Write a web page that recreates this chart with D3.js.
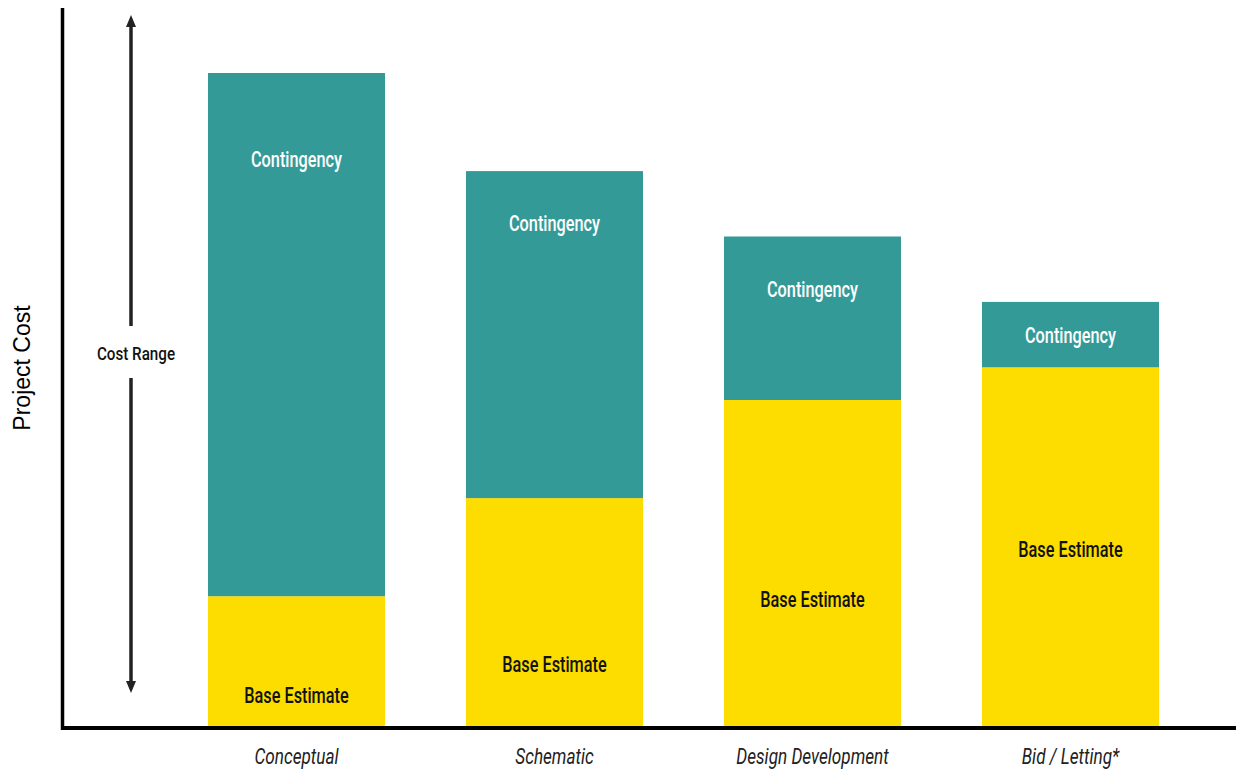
<!DOCTYPE html>
<html>
<head>
<meta charset="utf-8">
<script src="https://cdn.jsdelivr.net/npm/d3@7"></script>
<style>
  html, body { margin: 0; padding: 0; background: #fff; }
  svg { display: block; }
</style>
</head>
<body>
<script>
// ---- data ----
const categories = ["Conceptual", "Schematic", "Design Development", "Bid / Letting*"];
const baseEstimate = [20, 35, 50, 55];
const contingency = [80, 50, 25, 10];
// where each segment label sits (in value units)
const baseLabelAt = [4.9, 9.6, 19.6, 27.2];
const contLabelAt = [86.9, 77.1, 67, 60];
const segmentNames = ["Base Estimate", "Contingency"];
const yTitle = "Project Cost";
const rangeLabel = "Cost Range";

const W = 1236, H = 771;
const colors = { base: "#FDDC00", cont: "#349A98" };
const COND = "Roboto, 'Liberation Sans', sans-serif";
const SX = 0.78;
const SXBAR = 0.74;

const svg = d3.select("body").append("svg").attr("width", W).attr("height", H);

const x = d3.scaleBand().domain(categories)
  .range([167.5, 1199.5]).paddingInner(0.314).paddingOuter(0.157);
const y = d3.scaleLinear().domain([0, 100]).range([727, 73]);

const rows = categories.map((c, i) => ({
  cat: c, base: baseEstimate[i], cont: contingency[i],
  baseLab: baseLabelAt[i], contLab: contLabelAt[i]
}));

// bars
const g = svg.append("g");
g.selectAll("rect.base").data(rows).join("rect")
  .attr("x", d => x(d.cat)).attr("width", x.bandwidth())
  .attr("y", d => y(d.base)).attr("height", d => y(0) - y(d.base))
  .attr("fill", colors.base);
g.selectAll("rect.cont").data(rows).join("rect")
  .attr("x", d => x(d.cat)).attr("width", x.bandwidth())
  .attr("y", d => y(d.base + d.cont)).attr("height", d => y(d.base) - y(d.base + d.cont))
  .attr("fill", colors.cont);

// labels
g.selectAll("text.cl").data(rows).join("text")
  .attr("transform", d => `translate(${x(d.cat) + x.bandwidth() / 2},${y(d.contLab)}) scale(${SXBAR},1)`)
  .attr("dy", "0.36em")
  .attr("text-anchor", "middle").attr("fill", "#fff")
  .attr("font-family", COND).attr("font-size", 22).attr("font-weight", 500)
  .text(segmentNames[1]);
g.selectAll("text.bl").data(rows).join("text")
  .attr("transform", d => `translate(${x(d.cat) + x.bandwidth() / 2},${y(d.baseLab)}) scale(${SXBAR},1)`)
  .attr("dy", "0.36em")
  .attr("text-anchor", "middle").attr("fill", "#111")
  .attr("font-family", COND).attr("font-size", 22).attr("font-weight", 500)
  .text(segmentNames[0]);

// axes
const xAxis = d3.axisBottom(x).tickSize(0).tickPadding(0);
const xg = svg.append("g").attr("transform", "translate(0,756)").call(xAxis);
xg.select(".domain").remove();
xg.selectAll("text")
  .attr("y", 0).attr("dy", "0.36em")
  .attr("transform", `scale(${SX},1)`)
  .attr("font-family", COND).attr("font-size", 22)
  .attr("font-style", "italic").attr("fill", "#222");
svg.append("line").attr("x1", 61).attr("x2", W).attr("y1", 728).attr("y2", 728)
  .attr("stroke", "#000").attr("stroke-width", 4);
svg.append("line").attr("x1", 62.5).attr("x2", 62.5).attr("y1", 8).attr("y2", 730)
  .attr("stroke", "#000").attr("stroke-width", 3.5);

// y title
svg.append("text").attr("transform", "translate(30,368) rotate(-90)")
  .attr("text-anchor", "middle")
  .attr("font-family", "'Liberation Sans', Arial, sans-serif")
  .attr("font-size", 23).attr("fill", "#000").text(yTitle);

// cost range arrow
const defs = svg.append("defs");
defs.append("marker").attr("id", "ah").attr("viewBox", "0 0 12 10")
  .attr("refX", 0).attr("refY", 5).attr("markerWidth", 12).attr("markerHeight", 10)
  .attr("markerUnits", "userSpaceOnUse").attr("orient", "auto")
  .append("path").attr("d", "M0,0 L12,5 L0,10 Z").attr("fill", "#222");
const ax = 131;
svg.append("line").attr("x1", ax).attr("x2", ax).attr("y1", 326).attr("y2", 27)
  .attr("stroke", "#222").attr("stroke-width", 3.5).attr("marker-end", "url(#ah)");
svg.append("line").attr("x1", ax).attr("x2", ax).attr("y1", 378).attr("y2", 681)
  .attr("stroke", "#222").attr("stroke-width", 3.5).attr("marker-end", "url(#ah)");
svg.append("text")
  .attr("transform", `translate(136,353) scale(0.8,1)`).attr("dy", "0.36em")
  .attr("text-anchor", "middle").attr("font-family", COND).attr("font-size", 19)
  .attr("font-weight", 500).attr("fill", "#111").text(rangeLabel);
</script>
</body>
</html>
